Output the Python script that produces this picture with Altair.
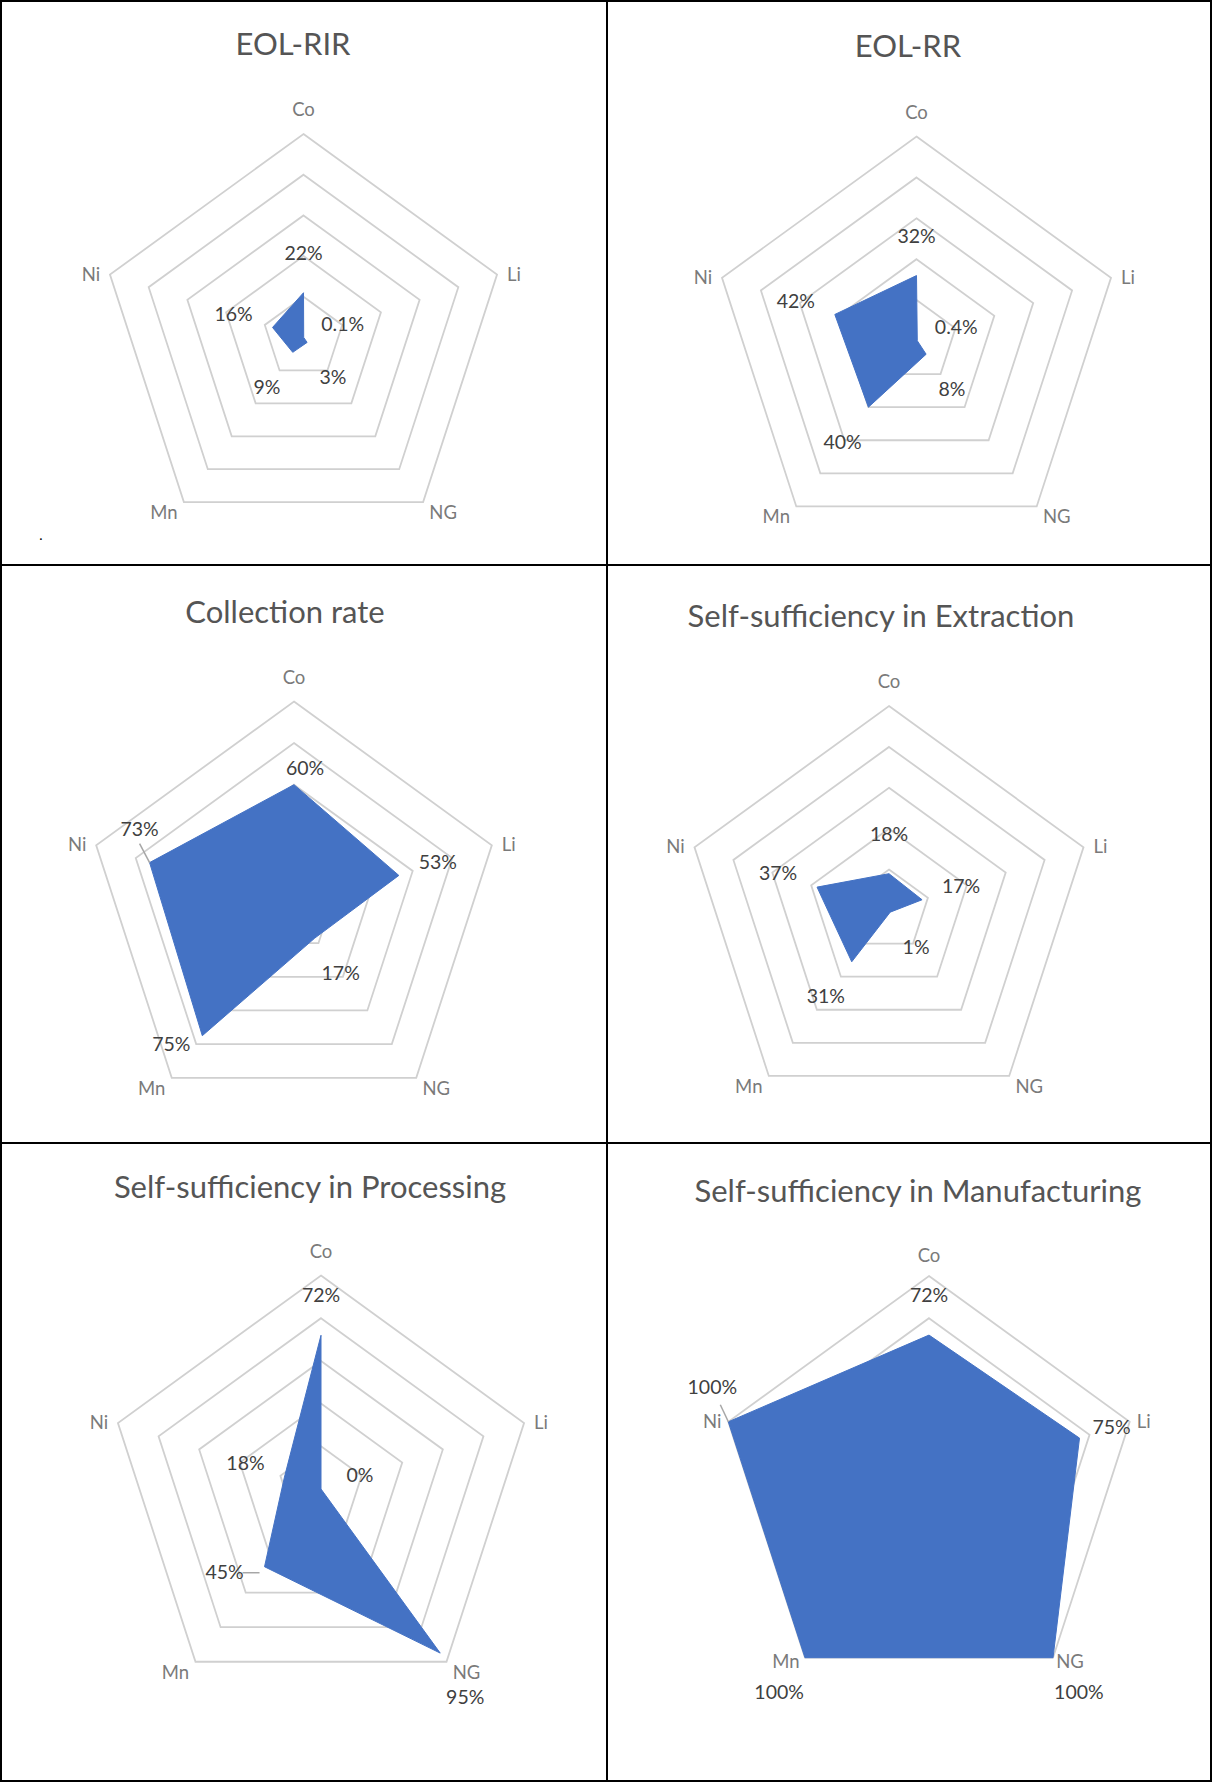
import math
import altair as alt
import pandas as pd

# ---------------- data ----------------
categories = ["Co", "Li", "NG", "Mn", "Ni"]
titles = [
    "EOL-RIR",
    "EOL-RR",
    "Collection rate",
    "Self-sufficiency in Extraction",
    "Self-sufficiency in Processing",
    "Self-sufficiency in Manufacturing",
]
eol_rir = [0.22, 0.001, 0.03, 0.09, 0.16]
eol_rr = [0.32, 0.004, 0.08, 0.40, 0.42]
collection_rate = [0.60, 0.53, 0.17, 0.75, 0.73]
ss_extraction = [0.18, 0.17, 0.01, 0.31, 0.37]
ss_processing = [0.72, 0.00, 0.95, 0.45, 0.18]
ss_manufacturing = [0.72, 0.75, 1.00, 1.00, 1.00]
series = [eol_rir, eol_rr, collection_rate, ss_extraction, ss_processing, ss_manufacturing]
ring_ticks = [0.2, 0.4, 0.6, 0.8, 1.0]


def fmt(v):
    return f"{v * 100:.1f}%" if 0 < v < 0.01 else f"{v * 100:.0f}%"


# ---------------- layout (pixels) ----------------
W, H = 1212, 1782
BLUE = "#4472C4"
FONT = "Lato"

panel_layout = {
    "EOL-RIR": dict(cx=303.5, cy=337.5, R=203.5, tx=293, ty=46),
    "EOL-RR": dict(cx=916.5, cy=341, R=204.5, tx=908, ty=48),
    "Collection rate": dict(cx=294, cy=909.5, R=208, tx=285, ty=614),
    "Self-sufficiency in Extraction": dict(cx=889, cy=910.5, R=204.5, tx=881, ty=618),
    "Self-sufficiency in Processing": dict(cx=321, cy=1489, R=213.5, tx=310, ty=1189),
    "Self-sufficiency in Manufacturing": dict(cx=929, cy=1487, R=211, tx=918, ty=1193),
}

# radial gap of data labels from their point, by category
label_gap = {"Co": 39, "Li": 41, "NG": 44, "Mn": 44, "Ni": 41}
# manually moved data labels: offset from the point
label_override = {
    ("Collection rate", "Co"): (11, -16),
    ("Collection rate", "Ni"): (-10, -33),
    ("Collection rate", "Mn"): (-31, 9),
    ("Self-sufficiency in Processing", "Mn"): (-40, 6),
    ("Self-sufficiency in Processing", "NG"): (25, 45),
    ("Self-sufficiency in Manufacturing", "Ni"): (-16, -34),
    ("Self-sufficiency in Manufacturing", "Li"): (32, -10),
}
# leader lines: start offset from label, end offset from point
leaders = {
    ("Collection rate", "Ni"): (0, 14, 0, 0),
    ("Self-sufficiency in Processing", "Mn"): (18, 0, -5, 6),
    ("Self-sufficiency in Manufacturing", "Ni"): (8, 17, 0, 0),
}
# category label offset from the outer vertex
cat_offset = {"Co": (0, -24), "Li": (17, 0), "NG": (20, 11), "Mn": (-20, 11), "Ni": (-19, 0)}
cat_offset_manuf = {"Co": (0, -20), "Li": (14, 0), "NG": (17, 4), "Mn": (-19, 4), "Ni": (-16, 0)}

# ---------------- tables ----------------
pts_rows, ring_rows, cat_rows, lead_rows, title_rows = [], [], [], [], []
for title, vals in zip(titles, series):
    lay = panel_layout[title]
    title_rows.append(dict(title=title, tx=lay["tx"], ty=lay["ty"]))
    for i, (cat, v) in enumerate(zip(categories, vals)):
        a = i * 2 * math.pi / 5
        if (title, cat) in label_override:
            ldx, ldy = label_override[(title, cat)]
        else:
            g = label_gap[cat]
            ldx, ldy = g * math.sin(a), -g * math.cos(a)
        row = dict(panel=title, cat=cat, idx=i, value=v, label=fmt(v),
                   cx=lay["cx"], cy=lay["cy"], R=lay["R"], ldx=ldx, ldy=ldy)
        pts_rows.append(row)
        if (title, cat) in leaders:
            sdx, sdy, edx, edy = leaders[(title, cat)]
            lead_rows.append(dict(row, sdx=sdx, sdy=sdy, edx=edx, edy=edy))
        offs = cat_offset_manuf if title.endswith("Manufacturing") else cat_offset
        cdx, cdy = offs[cat]
        cat_rows.append(dict(panel=title, cat=cat, idx=i, cx=lay["cx"], cy=lay["cy"],
                             R=lay["R"], cdx=cdx, cdy=cdy))
        for t in ring_ticks:
            ring_rows.append(dict(panel=title, ring=t, idx=i, cx=lay["cx"],
                                  cy=lay["cy"], R=lay["R"]))

pts = pd.DataFrame(pts_rows)
rings = pd.DataFrame(ring_rows)
cats = pd.DataFrame(cat_rows)
leads = pd.DataFrame(lead_rows)
tdf = pd.DataFrame(title_rows)

xs = alt.Scale(domain=[0, W], nice=False, zero=False)
ys = alt.Scale(domain=[0, H], nice=False, zero=False, reverse=True)


def X(f):
    return alt.X(f"{f}:Q", scale=xs, axis=None)


def Y(f):
    return alt.Y(f"{f}:Q", scale=ys, axis=None)


ANG = "datum.idx * 2 * PI / 5"

ring_layer = (
    alt.Chart(rings)
    .transform_calculate(ang=ANG)
    .transform_calculate(
        x="datum.cx + datum.ring * datum.R * sin(datum.ang)",
        y="datum.cy - datum.ring * datum.R * cos(datum.ang)",
    )
    .mark_line(interpolate="linear-closed", stroke="#D0D0D0", strokeWidth=1.8)
    .encode(x=X("x"), y=Y("y"), detail=["panel:N", "ring:Q"], order="idx:Q")
)

poly_layer = (
    alt.Chart(pts)
    .transform_calculate(ang=ANG)
    .transform_calculate(
        x="datum.cx + datum.value * datum.R * sin(datum.ang)",
        y="datum.cy - datum.value * datum.R * cos(datum.ang)",
    )
    .mark_line(interpolate="linear-closed", fill=BLUE, stroke=BLUE, strokeWidth=1)
    .encode(x=X("x"), y=Y("y"), detail="panel:N", order="idx:Q")
)

lead_layer = (
    alt.Chart(leads)
    .transform_calculate(ang=ANG)
    .transform_calculate(
        px="datum.cx + datum.value * datum.R * sin(datum.ang)",
        py="datum.cy - datum.value * datum.R * cos(datum.ang)",
    )
    .transform_calculate(
        x="datum.px + datum.ldx + datum.sdx",
        y="datum.py + datum.ldy + datum.sdy",
        x2="datum.px + datum.edx",
        y2="datum.py + datum.edy",
    )
    .mark_rule(color="#A6A6A6", strokeWidth=1.5)
    .encode(x=X("x"), y=Y("y"), x2="x2:Q", y2="y2:Q")
)

dlabel_layer = (
    alt.Chart(pts)
    .transform_calculate(ang=ANG)
    .transform_calculate(
        x="datum.cx + datum.value * datum.R * sin(datum.ang) + datum.ldx",
        y="datum.cy - datum.value * datum.R * cos(datum.ang) + datum.ldy",
    )
    .mark_text(font=FONT, fontSize=19.5, color="#404040", align="center", baseline="middle")
    .encode(x=X("x"), y=Y("y"), text="label:N")
)

cat_layer = (
    alt.Chart(cats)
    .transform_calculate(ang=ANG)
    .transform_calculate(
        x="datum.cx + datum.R * sin(datum.ang) + datum.cdx",
        y="datum.cy - datum.R * cos(datum.ang) + datum.cdy",
    )
    .mark_text(font=FONT, fontSize=18.5, color="#7A7A7A", align="center", baseline="middle")
    .encode(x=X("x"), y=Y("y"), text="cat:N")
)

title_layer = (
    alt.Chart(tdf)
    .mark_text(font=FONT, fontSize=31, color="#555555", align="center", baseline="middle")
    .encode(x=X("tx"), y=Y("ty"), text="title:N")
)

dot_layer = (
    alt.Chart(pd.DataFrame({"t": ["."]}))
    .mark_text(font=FONT, fontSize=14, color="#000000")
    .encode(x=alt.value(41), y=alt.value(536), text="t:N")
)

border_layers = []
for bx in [1, 607, 1211]:
    border_layers.append(
        alt.Chart(pd.DataFrame({"k": [0]}))
        .mark_rule(color="#000000", strokeWidth=2)
        .encode(x=alt.value(bx), y=alt.value(0), y2=alt.value(H))
    )
for by in [1, 565, 1143, 1781]:
    border_layers.append(
        alt.Chart(pd.DataFrame({"k": [0]}))
        .mark_rule(color="#000000", strokeWidth=2)
        .encode(y=alt.value(by), x=alt.value(0), x2=alt.value(W))
    )

chart = (
    alt.layer(ring_layer, poly_layer, lead_layer, dlabel_layer, cat_layer, title_layer,
              dot_layer, *border_layers)
    .properties(width=W, height=H, padding=0, autosize="none", background="white")
    .configure_view(stroke=None)
)

chart.save("out.html", embed_options={"renderer": "svg", "actions": False})
